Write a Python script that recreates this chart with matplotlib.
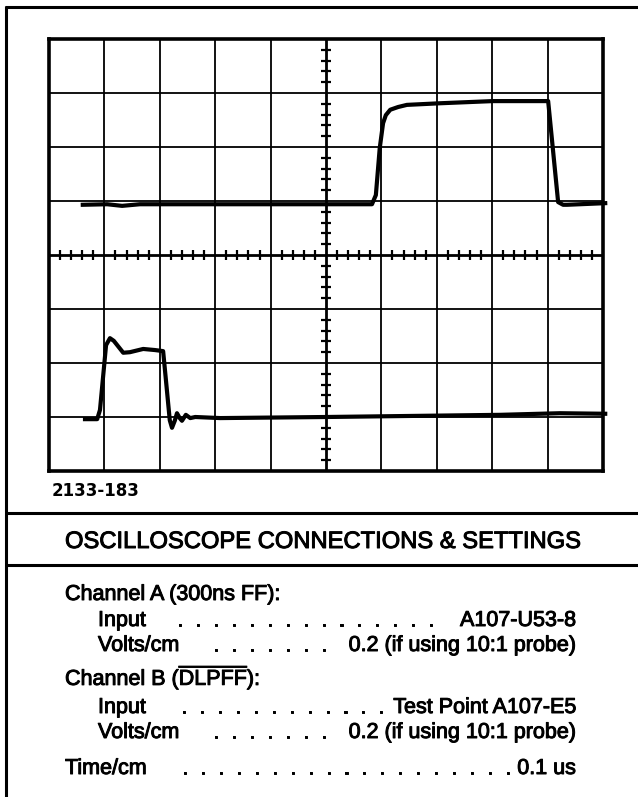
import numpy as np
import matplotlib
matplotlib.use("Agg")
import matplotlib.pyplot as plt
import matplotlib.patheffects as pe
from matplotlib.lines import Line2D

# ---- traces (time in divisions, amplitude in divisions from bottom) ----
chan_a_t = [0.61, 1.05, 1.32, 1.64, 3.0, 5.0, 5.83, 5.90, 5.97, 6.03, 6.08, 6.16,
            6.30, 6.46, 7.06, 8.01, 9.01, 9.19, 9.28, 9.35, 10.04]
chan_a_v = [4.93, 4.94, 4.91, 4.94, 4.94, 4.94, 4.94, 5.11, 5.98, 6.44, 6.59, 6.69,
            6.74, 6.78, 6.81, 6.85, 6.85, 4.98, 4.93, 4.93, 4.96]

chan_b_t = [0.65, 0.87, 0.92, 1.03, 1.10, 1.17, 1.34, 1.46, 1.70, 1.91, 2.06, 2.11,
            2.18, 2.22, 2.27, 2.31, 2.36, 2.40, 2.47, 2.55, 2.64, 3.09, 5.0, 8.14,
            9.22, 10.04]
chan_b_v = [0.96, 0.96, 1.13, 2.33, 2.46, 2.41, 2.19, 2.20, 2.26, 2.24, 2.22, 1.69,
            0.94, 0.80, 0.93, 1.07, 0.98, 0.93, 1.04, 0.98, 1.00, 0.98, 1.00, 1.04,
            1.07, 1.06]

# ---- settings table ----
fig_code = "2133-183"
heading = "OSCILLOSCOPE CONNECTIONS & SETTINGS"
groups = ["Channel A (300ns FF):", r"Channel B ($\overline{\mathrm{DLPFF}}$):"]
labels = ["Input", "Volts/cm", "Input", "Volts/cm", "Time/cm"]
values = ["A107-U53-8", "0.2 (if using 10:1 probe)", "Test Point A107-E5",
          "0.2 (if using 10:1 probe)", "0.1 us"]
n_dots = [15, 7, 12, 7, 19]

W, H = 638, 797
plt.rcParams['font.family'] = ['Liberation Sans', 'DejaVu Sans']
plt.rcParams['mathtext.fontset'] = 'custom'
plt.rcParams['mathtext.rm'] = 'Liberation Sans'

fig = plt.figure(figsize=(W / 100, H / 100), dpi=100)

def fx(px):
    return px / W

def fy(py):
    return 1 - py / H

# printed type is a little heavier than the regular face
ink = [pe.withStroke(linewidth=0.7, foreground='black')]

# outer frame and separators
frame = dict(color='black', lw=2.2, transform=fig.transFigure, solid_capstyle='butt')
fig.add_artist(Line2D([fx(6), fx(6)], [fy(6), fy(797)], **frame))
fig.add_artist(Line2D([fx(5), fx(638)], [fy(7), fy(7)], **frame))
fig.add_artist(Line2D([fx(5), fx(638)], [fy(513), fy(513)], **frame))
fig.add_artist(Line2D([fx(5), fx(638)], [fy(565), fy(565)], **frame))

# graticule
ax = fig.add_axes([fx(49), fy(471), fx(603) - fx(49), (471 - 39) / H])
ax.set_xlim(0, 10)
ax.set_ylim(0, 8)
ax.set_xticks([])
ax.set_yticks([])
for s in ax.spines.values():
    s.set_linewidth(2.6)

for x in range(1, 10):
    ax.axvline(x, color='black', lw=2.0 if x == 5 else 1.3, zorder=1)
for y in range(1, 8):
    ax.axhline(y, color='black', lw=2.0 if y == 4 else 1.3, zorder=1)

minor_x = [v for v in np.arange(0.2, 10, 0.2) if abs(v - round(v)) > 1e-6]
minor_y = [v for v in np.arange(0.2, 8, 0.2) if abs(v - round(v)) > 1e-6]
ax.vlines(minor_x, 4 - 0.085, 4 + 0.085, color='black', lw=1.6, zorder=1)
ax.hlines(minor_y, 5 - 0.085, 5 + 0.085, color='black', lw=1.6, zorder=1)

ax.plot(chan_a_t, chan_a_v, color='black', lw=3.0, solid_joinstyle='round',
        clip_on=False, zorder=3)
ax.plot(chan_b_t, chan_b_v, color='black', lw=3.0, solid_joinstyle='round',
        clip_on=False, zorder=3)

# captions
fig.text(fx(52), fy(496), fig_code, family='DejaVu Sans', weight='bold',
         fontsize=12, va='baseline')
fig.text(fx(65), fy(548), heading, fontsize=17.1, va='baseline', path_effects=ink)

body = 15.5
fig.text(fx(65), fy(600), groups[0], fontsize=body, va='baseline', path_effects=ink)
fig.text(fx(65), fy(685), groups[1], fontsize=body, va='baseline', path_effects=ink)

rows_y = [626, 651, 713, 738, 774]
label_x = [98, 98, 98, 98, 65]
dot_x = [177, 213, 181, 213, 182]
for lab, val, nd, ly, lx, dx in zip(labels, values, n_dots, rows_y, label_x, dot_x):
    fig.text(fx(lx), fy(ly), lab, fontsize=body, va='baseline', path_effects=ink)
    fig.text(fx(dx), fy(ly), "  ".join(["."] * nd), fontsize=body, va='baseline',
             path_effects=ink)
    fig.text(fx(576), fy(ly), val, fontsize=body, va='baseline', ha='right',
             path_effects=ink)

fig.savefig("out.png", dpi=100)
